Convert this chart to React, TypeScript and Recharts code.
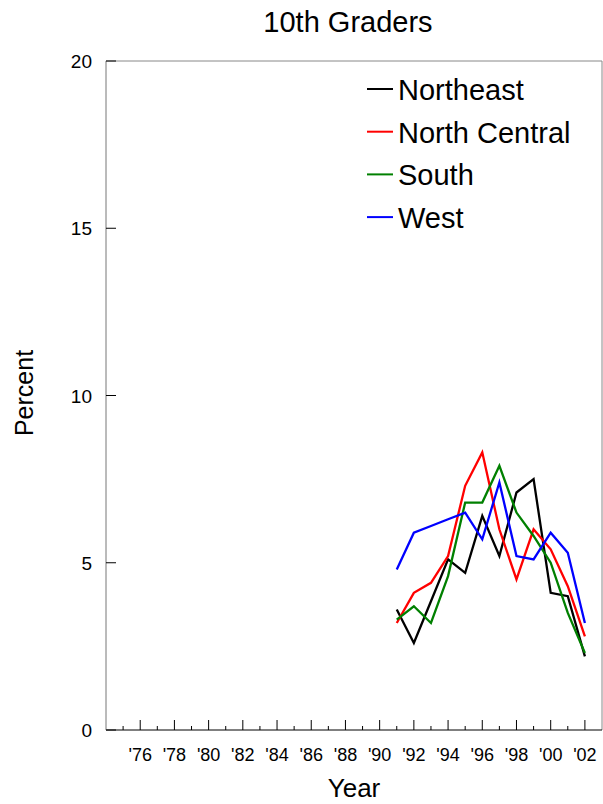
import React from "react";
import { LineChart, Line, XAxis, YAxis, ReferenceLine, Legend } from "recharts";

const years = [1991, 1992, 1993, 1994, 1995, 1996, 1997, 1998, 1999, 2000, 2001, 2002];
const northeast = [3.6, 2.6, 3.85, 5.1, 4.7, 6.4, 5.2, 7.1, 7.5, 4.1, 4.0, 2.2];
const northCentral = [3.2, 4.1, 4.4, 5.2, 7.3, 8.3, 6.0, 4.5, 6.0, 5.4, 4.3, 2.8];
const south = [3.3, 3.7, 3.2, 4.6, 6.8, 6.8, 7.9, 6.5, 5.8, 5.0, 3.5, 2.3];
const west = [4.8, 5.9, 6.1, 6.3, 6.5, 5.7, 7.4, 5.2, 5.1, 5.9, 5.3, 3.2];

const xTicks = [1975, 1976, 1977, 1978, 1979, 1980, 1981, 1982, 1983, 1984, 1985, 1986, 1987, 1988, 1989, 1990, 1991, 1992, 1993, 1994, 1995, 1996, 1997, 1998, 1999, 2000, 2001, 2002];
const yTicks = [0, 5, 10, 15, 20];

const seriesList = [
  { key: "northeast", name: "Northeast", color: "#000000", values: northeast },
  { key: "northCentral", name: "North Central", color: "#ff0000", values: northCentral },
  { key: "south", name: "South", color: "#008000", values: south },
  { key: "west", name: "West", color: "#0000ff", values: west },
];

const data = years.map((year, i) => {
  const row: Record<string, number> = { year };
  seriesList.forEach((s) => {
    row[s.key] = s.values[i];
  });
  return row;
});

const FONT = '"Liberation Sans", Arial, Helvetica, sans-serif';

const XTick = (props: any) => {
  const { x, payload } = props;
  const yr = payload.value as number;
  const major = yr % 2 === 0;
  const label = "'" + String(yr % 100).padStart(2, "0");
  const base = 730;
  return (
    <g>
      <line x1={x} x2={x} y1={base} y2={base - (major ? 10 : 4)} stroke="#000" strokeWidth={1} />
      {major && (
        <text x={x} y={761} textAnchor="middle" fontSize={18} fontFamily={FONT} fill="#000">
          {label}
        </text>
      )}
    </g>
  );
};

const YTick = (props: any) => {
  const { y, payload } = props;
  const base = 106;
  return (
    <g>
      <line x1={base} x2={base + 10} y1={y} y2={y} stroke="#000" strokeWidth={1} />
      <text x={92} y={y + 7} textAnchor="end" fontSize={19} fontFamily={FONT} fill="#000">
        {payload.value}
      </text>
    </g>
  );
};

const LegendContent = () => (
  <svg width={240} height={175} style={{ display: "block" }}>
    {seriesList.map((s, i) => {
      const ly = 21 + i * 42.7;
      return (
        <g key={s.key}>
          <line x1={7} x2={33} y1={ly} y2={ly} stroke={s.color} strokeWidth={2} />
          <text x={38} y={ly + 11} fontSize={29} fontFamily={FONT} fill="#000">
            {s.name}
          </text>
        </g>
      );
    })}
  </svg>
);

export default function App() {
  return (
    <div style={{ position: "absolute", left: 0, top: 0, width: 603, height: 804, background: "#fff" }}>
      <LineChart
        width={603}
        height={804}
        data={data}
        margin={{ top: 61, right: 1, bottom: 73, left: 105 }}
      >
        <XAxis
          type="number"
          dataKey="year"
          domain={[1974, 2003]}
          ticks={xTicks}
          interval={0}
          height={1}
          tickSize={0}
          tickMargin={0}
          tickLine={false}
          tick={<XTick />}
          axisLine={{ stroke: "#000", strokeWidth: 1 }}
          allowDataOverflow
        />
        <YAxis
          type="number"
          domain={[0, 20]}
          ticks={yTicks}
          interval={0}
          width={1}
          tickSize={0}
          tickMargin={0}
          tickLine={false}
          tick={<YTick />}
          axisLine={{ stroke: "#777", strokeWidth: 1 }}
          allowDataOverflow
        />
        <ReferenceLine y={20} stroke="#888" strokeWidth={1} />
        <ReferenceLine x={2003} stroke="#888" strokeWidth={1} />
        <Legend
          layout="vertical"
          align="center"
          verticalAlign="middle"
          content={<LegendContent />}
          wrapperStyle={{ position: "absolute", left: 360, top: 68, width: 240, height: 175 }}
        />
        {seriesList.map((s) => (
          <Line
            key={s.key}
            type="linear"
            dataKey={s.key}
            name={s.name}
            stroke={s.color}
            strokeWidth={2.3}
            dot={false}
            activeDot={false}
            isAnimationActive={false}
          />
        ))}
      </LineChart>
      <svg
        width={603}
        height={804}
        style={{ position: "absolute", left: 0, top: 0, pointerEvents: "none" }}
      >
        <text x={348} y={32} textAnchor="middle" fontSize={29} fontFamily={FONT} fill="#000">
          10th Graders
        </text>
        <text x={354} y={797} textAnchor="middle" fontSize={26} fontFamily={FONT} fill="#000">
          Year
        </text>
        <text
          x={33}
          y={393}
          textAnchor="middle"
          fontSize={25}
          fontFamily={FONT}
          fill="#000"
          transform="rotate(-90 33 393)"
        >
          Percent
        </text>
      </svg>
    </div>
  );
}
